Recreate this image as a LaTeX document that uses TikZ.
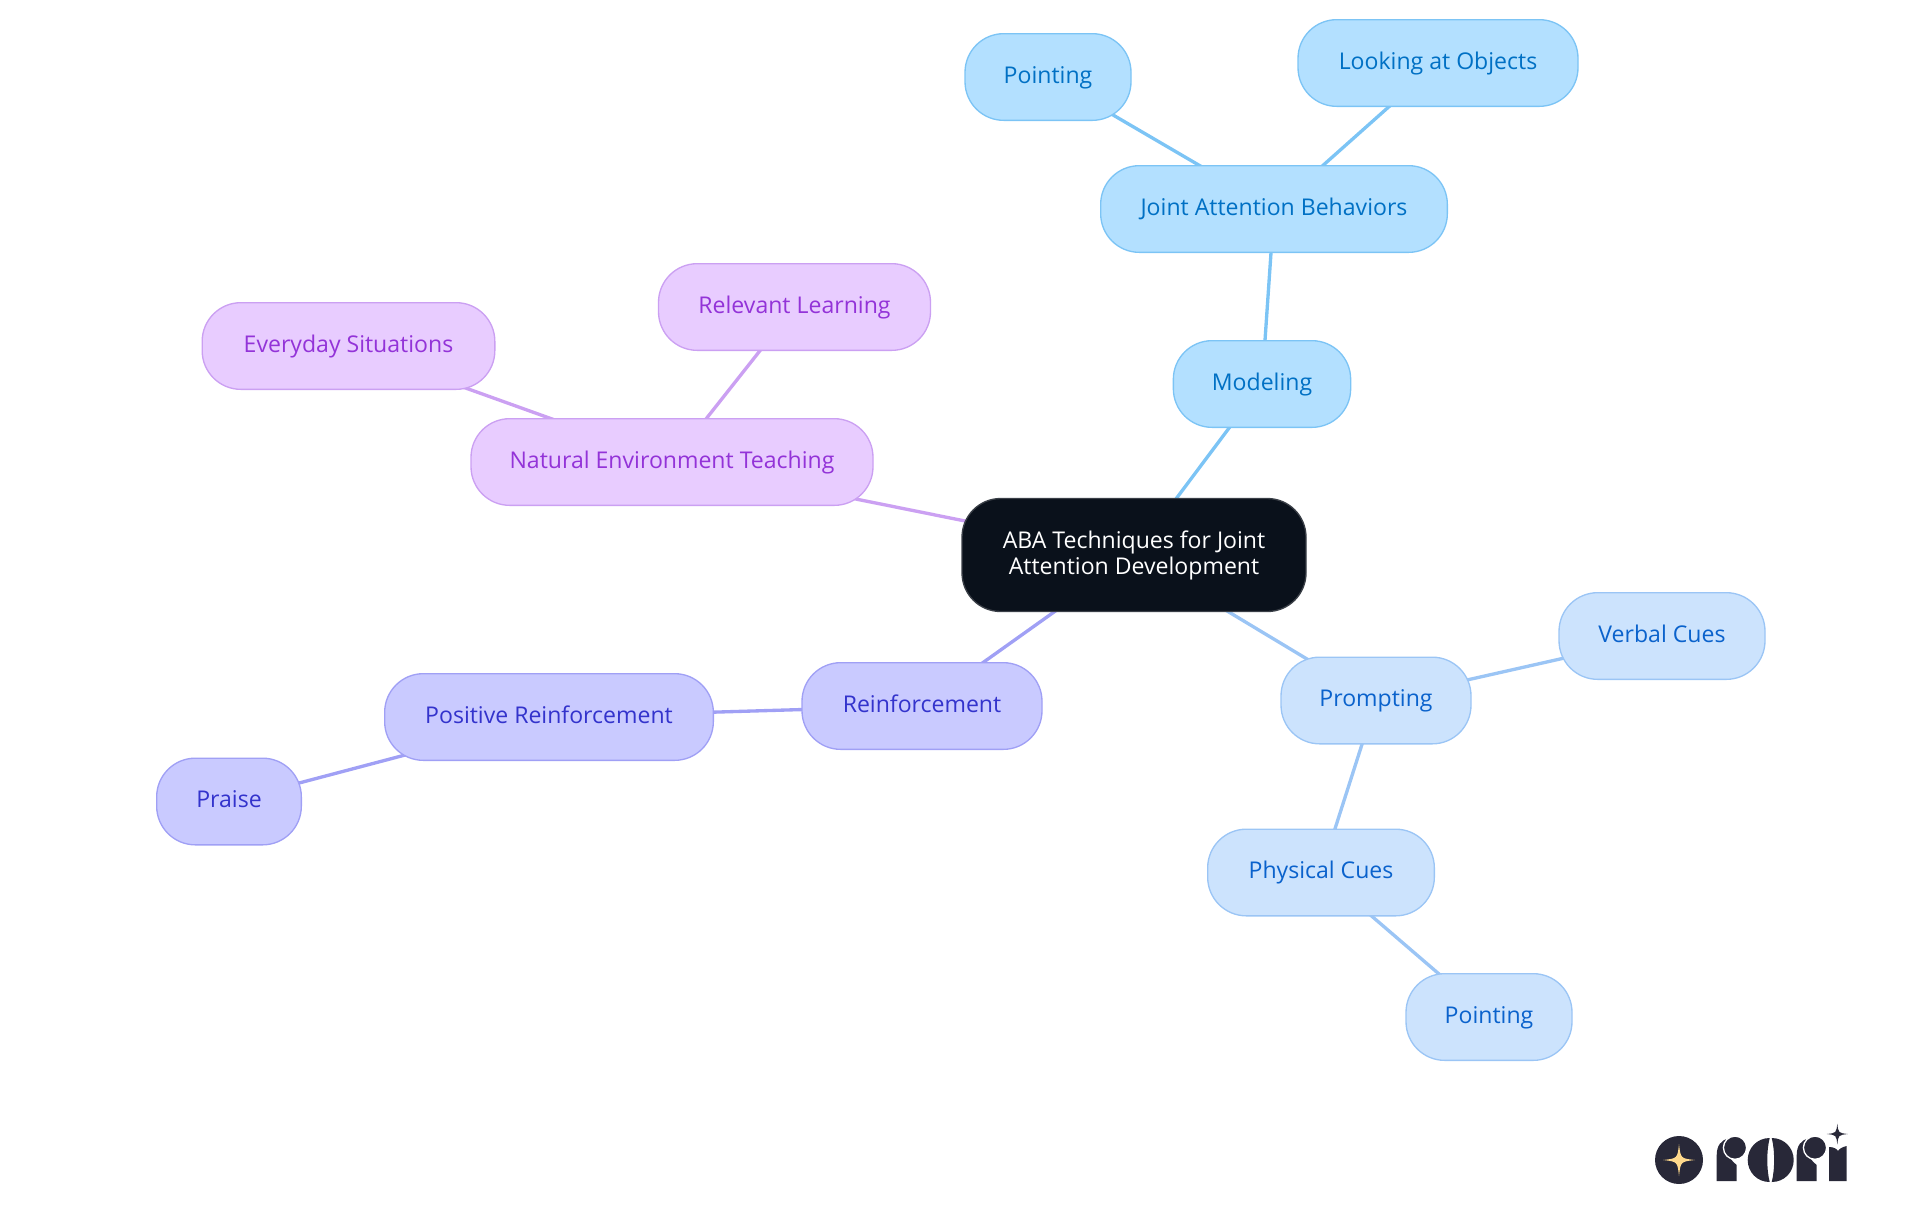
\documentclass[tikz,border=0pt]{standalone}
\usepackage{fontspec}
\setmainfont{Open Sans}
\usetikzlibrary{backgrounds}
\definecolor{skyfill}{HTML}{B3E0FF}
\definecolor{skyline}{HTML}{7CC4F5}
\definecolor{skytext}{HTML}{0070C4}
\definecolor{bluefill}{HTML}{CCE3FD}
\definecolor{blueline}{HTML}{9BC5F5}
\definecolor{bluetext}{HTML}{0A62CC}
\definecolor{violetfill}{HTML}{E8CCFF}
\definecolor{violetline}{HTML}{CBA0F2}
\definecolor{violettext}{HTML}{9333D8}
\definecolor{indigofill}{HTML}{C9CAFF}
\definecolor{indigoline}{HTML}{A0A0F5}
\definecolor{indigotext}{HTML}{3333CC}
\definecolor{rootfill}{HTML}{0A111B}
\definecolor{rootline}{HTML}{3A3F47}
\definecolor{logodark}{HTML}{282838}
\definecolor{logogold}{HTML}{FFD98C}

\begin{document}
\begin{tikzpicture}[x=0.75pt, y=-0.75pt,
    pill/.style={rectangle, rounded corners=29pt, draw, line width=1pt, inner sep=0pt, minimum height=65pt, align=center,
        text height=13pt, text depth=3.5pt, font=\fontsize{17.3}{19.5}\selectfont},
    skypill/.style={pill, fill=skyfill, draw=skyline, text=skytext},
    bluepill/.style={pill, fill=bluefill, draw=blueline, text=bluetext},
    violetpill/.style={pill, fill=violetfill, draw=violetline, text=violettext},
    indigopill/.style={pill, fill=indigofill, draw=indigoline, text=indigotext},
    rootpill/.style={pill, fill=rootfill, draw=rootline, text=white, minimum height=84.75pt, text height=, text depth=},
    link/.style={line width=2.5pt},
    sparkle/.pic={\fill (0,-1) .. controls (0.1,-0.1) .. (1,0) .. controls (0.1,0.1) .. (0,1) .. controls (-0.1,0.1) .. (-1,0) .. controls (-0.1,-0.1) .. (0,-1) -- cycle;}
]
\useasboundingbox (0,0) rectangle (1920,1215);

\node[rootpill, minimum width=258pt] (root) at (1134,555) {ABA Techniques for Joint\\Attention Development};

\node[skypill, minimum width=133pt] (modeling) at (1262,384) {Modeling};
\node[skypill, minimum width=260pt] (joint) at (1274,209) {Joint Attention Behaviors};
\node[skypill, minimum width=124.5pt] (pointa) at (1048,77) {Pointing};
\node[skypill, minimum width=210pt] (looking) at (1438,63) {Looking at Objects};

\node[violetpill, minimum width=301.5pt] (natural) at (672,462) {Natural Environment Teaching};
\node[violetpill, minimum width=204pt] (relevant) at (794.5,307) {Relevant Learning};
\node[violetpill, minimum width=219.5pt] (everyday) at (348.5,346) {Everyday Situations};

\node[indigopill, minimum width=180pt] (reinf) at (922,706) {Reinforcement};
\node[indigopill, minimum width=246.5pt] (positive) at (549,717) {Positive Reinforcement};
\node[indigopill, minimum width=108.5pt] (praise) at (229,801.5) {Praise};

\node[bluepill, minimum width=142.5pt] (prompting) at (1376,700.5) {Prompting};
\node[bluepill, minimum width=154.5pt] (verbal) at (1662,636) {Verbal Cues};
\node[bluepill, minimum width=170pt] (physical) at (1321,872.5) {Physical Cues};
\node[bluepill, minimum width=124.5pt] (pointb) at (1489,1017) {Pointing};

\begin{scope}[on background layer]
\draw[link, skyline] (root.center) -- (modeling.center);
\draw[link, skyline] (modeling.center) -- (joint.center);
\draw[link, skyline] (joint.center) -- (pointa.center);
\draw[link, skyline] (joint.center) -- (looking.center);
\draw[link, violetline] (root.center) -- (natural.center);
\draw[link, violetline] (natural.center) -- (relevant.center);
\draw[link, violetline] (natural.center) -- (everyday.center);
\draw[link, indigoline] (root.center) -- (reinf.center);
\draw[link, indigoline] (reinf.center) -- (positive.center);
\draw[link, indigoline] (positive.center) -- (praise.center);
\draw[link, blueline] (root.center) -- (prompting.center);
\draw[link, blueline] (prompting.center) -- (verbal.center);
\draw[link, blueline] (prompting.center) -- (physical.center);
\draw[link, blueline] (physical.center) -- (pointb.center);
\end{scope}

\fill[logodark] (1679,1160) circle (24);
\pic[logogold, scale=16] at (1679,1160) {sparkle={}};
\foreach \x in {1716.7,1796.7} {
    \fill[logodark] (\x,1181) -- (\x,1155) .. controls (\x,1146) and (\x+4,1140) .. (\x+12,1138.5)
        .. controls (\x+7,1146) and (\x+8,1155) .. (\x+20,1165) -- (\x+20,1181) -- cycle;
    \filldraw[fill=logodark, draw=white, line width=1pt] (\x+18.3,1147.7) circle (11.6);
}
\fill[logodark] (1769.7,1138) .. controls (1757,1138) and (1747.7,1148) .. (1747.7,1160) .. controls (1747.7,1172) and (1757,1182) .. (1769.7,1182)
    .. controls (1766.5,1170) and (1766.5,1150) .. (1769.7,1138) -- cycle;
\fill[logodark] (1771.7,1138) .. controls (1784.4,1138) and (1793.7,1148) .. (1793.7,1160) .. controls (1793.7,1172) and (1784.4,1182) .. (1771.7,1182)
    .. controls (1774.9,1170) and (1774.9,1150) .. (1771.7,1138) -- cycle;
\fill[logodark] (1829,1181) -- (1829,1147) .. controls (1834,1147) and (1837,1149) .. (1838,1151) .. controls (1839,1149) and (1842,1147) .. (1846.7,1146) -- (1846.7,1181) -- cycle;
\pic[logodark, scale=10.5] at (1837.3,1134) {sparkle={}};

\end{tikzpicture}
\end{document}
